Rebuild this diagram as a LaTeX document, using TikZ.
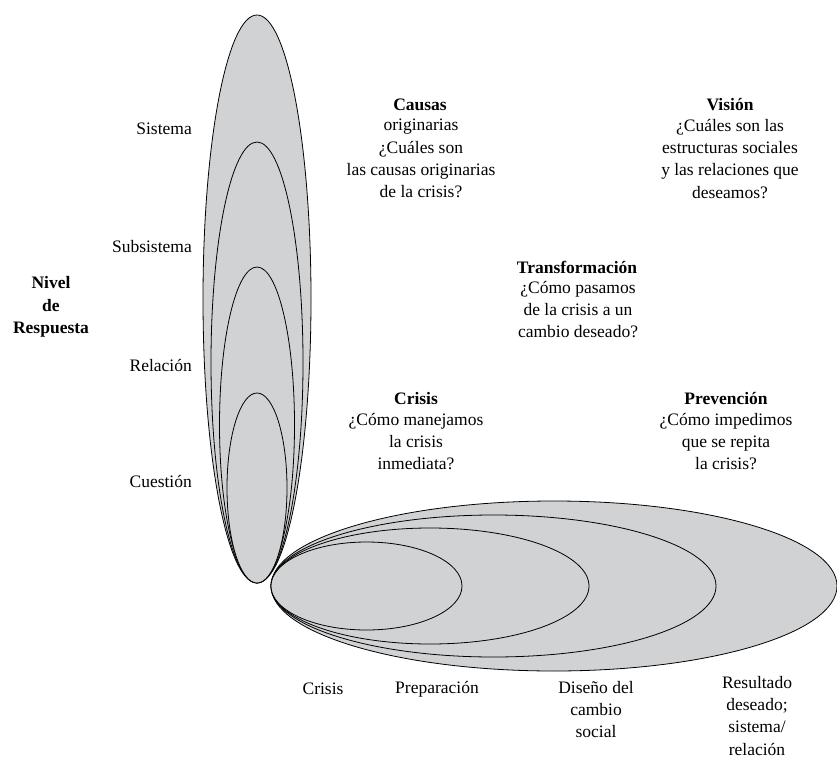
\documentclass[tikz,border=0pt]{standalone}
\usepackage{fontspec}
\setmainfont{Liberation Serif}
\definecolor{ellfill}{RGB}{209,210,212}
\begin{document}
\begin{tikzpicture}[x=1pt,y=-1pt,
  ell/.style={draw=black,fill=ellfill,line width=0.8pt},
  txt/.style={font=\fontsize{17.5}{22.3}\selectfont,inner sep=0pt,align=center},
  head/.style={font=\fontsize{17.5}{22.3}\selectfont\bfseries,inner sep=0pt}]
\useasboundingbox (0,0) rectangle (837,762);
% vertical ellipses (level of response)
\draw[ell] (257,299) ellipse [x radius=54pt, y radius=284pt];
\draw[ell] (257,362.5) ellipse [x radius=46pt, y radius=220.5pt];
\draw[ell] (257,425) ellipse [x radius=37.5pt, y radius=158pt];
\draw[ell] (257,488) ellipse [x radius=30pt, y radius=95pt];
% horizontal ellipses (time)
\draw[ell] (554,586) ellipse [x radius=283pt, y radius=85pt];
\draw[ell] (493.5,586) ellipse [x radius=222.5pt, y radius=71pt];
\draw[ell] (430,586) ellipse [x radius=159pt, y radius=58pt];
\draw[ell] (366.5,586) ellipse [x radius=95.5pt, y radius=44pt];
% level labels
\node[txt,anchor=east] (sis) at (192,129) {Sistema};
\node[txt,anchor=east] (sub) at (192,247) {Subsistema};
\node[txt,anchor=east] (rel) at (192,365) {Relación};
\node[txt,anchor=east] (cue) at (192,481) {Cuestión};
\node[head,align=center] (niv) at (51,307) {Nivel\\de\\Respuesta};
% Causas
\node[head] (caush) at (420,105) {Causas};
\node[txt,anchor=north] (causb) at (421,119) {originarias\\¿Cuáles son\\las causas originarias\\de la crisis?};
% Vision
\node[head] (vish) at (730,105) {Visión};
\node[txt,anchor=north] (visb) at (730,119) {¿Cuáles son las\\estructuras sociales\\y las relaciones que\\deseamos?};
% Transformacion
\node[head] (trah) at (577,267) {Transformación};
\node[txt,anchor=north] (trab) at (578,281) {¿Cómo pasamos\\de la crisis a un\\cambio deseado?};
% Crisis
\node[head] (crih) at (416,399) {Crisis};
\node[txt,anchor=north] (crib) at (416,413) {¿Cómo manejamos\\la crisis\\inmediata?};
% Prevencion
\node[head] (preh) at (726,399) {Prevención};
\node[txt,anchor=north] (preb) at (726,413) {¿Cómo impedimos\\que se repita\\la crisis?};
% time labels
\node[txt] (tcri) at (323,689) {Crisis};
\node[txt] (tpre) at (437,689) {Preparación};
\node[txt,anchor=north] (tdis) at (596,681) {Diseño del\\cambio\\social};
\node[txt,anchor=north] (tres) at (757,676) {Resultado\\deseado;\\sistema/\\relación};
\end{tikzpicture}
\end{document}
